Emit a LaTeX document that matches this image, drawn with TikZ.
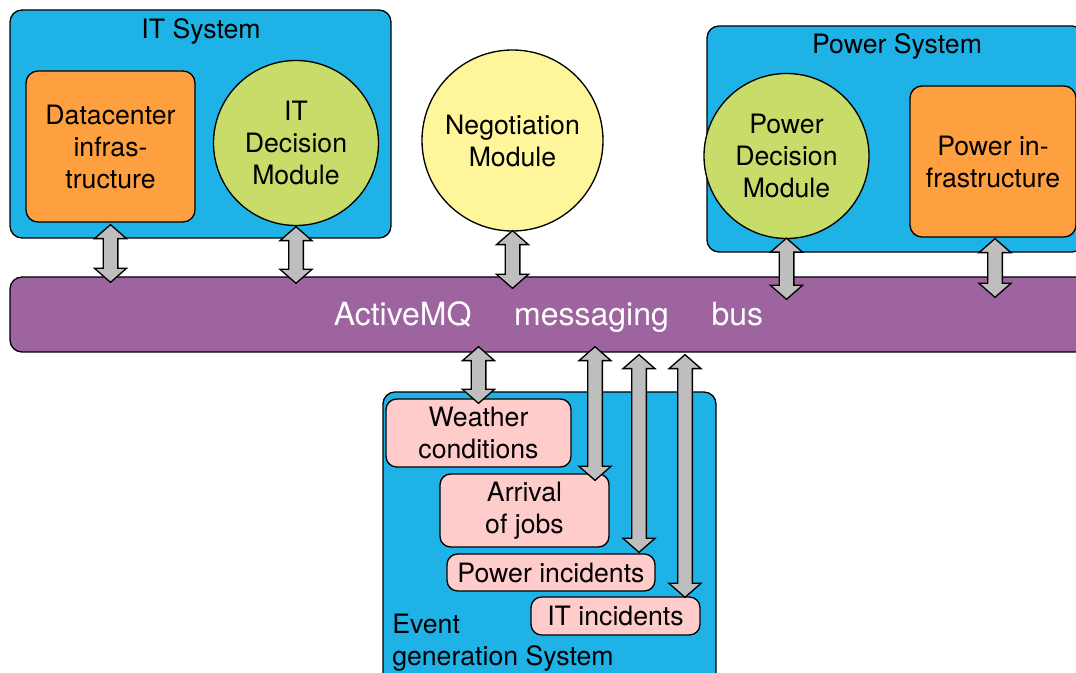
\documentclass[tikz,border=0pt]{standalone}
\usepackage{fontspec}
\setmainfont{TeX Gyre Heros}
\usetikzlibrary{calc}
\definecolor{sysblue}{RGB}{30,178,230}
\definecolor{infraorange}{RGB}{255,160,64}
\definecolor{decgreen}{RGB}{200,220,105}
\definecolor{negyellow}{RGB}{255,245,155}
\definecolor{buspurple}{RGB}{158,100,160}
\definecolor{evpink}{RGB}{255,204,204}
\definecolor{arrgray}{RGB}{190,190,190}
\tikzset{
  base/.style={draw=black, line width=1pt, font=\fontsize{20}{24}\selectfont, align=center, inner sep=0pt},
  sysbox/.style={base, fill=sysblue, rounded corners=9pt},
  infrabox/.style={base, fill=infraorange, rounded corners=9pt},
  decnode/.style={base, circle, fill=decgreen},
  negnode/.style={base, circle, fill=negyellow},
  busbox/.style={base, fill=buspurple, rounded corners=9pt},
  evbox/.style={base, fill=evpink, rounded corners=8pt},
  label/.style={font=\fontsize{20}{24}\selectfont, align=center, inner sep=0pt},
  fatarr/.style={draw=black, line width=1pt, fill=arrgray, line join=miter},
}
\newcommand{\fatarrow}[2]{%
  \draw[fatarr] let \p1=(#1), \p2=(#2) in
    (\x1,\y1) -- (\x1+12pt,\y1-10.5pt) -- (\x1+5.5pt,\y1-10.5pt) --
    (\x1+5.5pt,\y2+10.5pt) -- (\x1+12pt,\y2+10.5pt) -- (\x1,\y2) --
    (\x1-12pt,\y2+10.5pt) -- (\x1-5.5pt,\y2+10.5pt) --
    (\x1-5.5pt,\y1-10.5pt) -- (\x1-12pt,\y1-10.5pt) -- cycle;}
\begin{document}
\begin{tikzpicture}[x=0.75pt,y=-0.75pt]
\useasboundingbox (0,0) rectangle (1076,673);
\clip (0,0) rectangle (1076,673);
% IT system
\node[sysbox, minimum width=381*0.75pt, minimum height=228*0.75pt] (its) at (200.5,124) {};
\node[label] (itstitle) at (201,31) {IT System};
\node[infrabox, minimum width=169*0.75pt, minimum height=151*0.75pt] (dc) at (110.5,146.5) {Datacenter\\infras-\\tructure};
\node[decnode, minimum size=165*0.75pt] (itd) at (296,143) {IT\\Decision\\Module};
% Negotiation
\node[negnode, minimum size=181*0.75pt] (neg) at (512.5,140.5) {Negotiation\\Module};
% Power system
\node[sysbox, minimum width=377*0.75pt, minimum height=226*0.75pt] (pws) at (895.5,139) {};
\node[label] (pwstitle) at (897,46) {Power System};
\node[decnode, minimum size=165*0.75pt] (pd) at (786.5,156) {Power\\Decision\\Module};
\node[infrabox, minimum width=166*0.75pt, minimum height=151*0.75pt] (pi) at (993,161.5) {Power in-\\frastructure};
% Bus
\node[busbox, minimum width=1080*0.75pt, minimum height=75*0.75pt] (bus) at (550,314.5) {};
\node[label, text=white, font=\fontsize{24}{28}\selectfont] (bustext) at (548.5,317) {ActiveMQ\hspace{32pt}messaging\hspace{32pt}bus};
% Event generation system
\node[sysbox, minimum width=333*0.75pt, minimum height=300*0.75pt] (ev) at (549.5,542) {};
\node[label, anchor=west, align=left] (evtext) at (392,643) {Event\\generation System};
\node[evbox, minimum width=185*0.75pt, minimum height=68*0.75pt] (wc) at (478.5,433) {Weather\\conditions};
\node[evbox, minimum width=169*0.75pt, minimum height=73*0.75pt] (aj) at (524.5,510.5) {Arrival\\of jobs};
\node[evbox, minimum width=208*0.75pt, minimum height=37*0.75pt] (pinc) at (551,572.5) {Power incidents};
\node[evbox, minimum width=169*0.75pt, minimum height=38*0.75pt] (itinc) at (615.5,616) {IT incidents};
% arrow columns
\coordinate (c7) at (595,0);
\coordinate (c8) at (639,0);
\coordinate (c9) at (685,0);
% Arrows
\fatarrow{$(dc.south)+(0,2)$}{$(dc.south |- bus.north)+(0,6)$}
\fatarrow{$(itd.south)+(0,0.5)$}{$(itd.south |- bus.north)+(0,7)$}
\fatarrow{$(neg.south)+(0,-1)$}{$(neg.south |- bus.north)+(0,12)$}
\fatarrow{$(pd.south)+(0,-1)$}{$(pd.south |- bus.north)+(0,23)$}
\fatarrow{$(pi.south)+(2,1)$}{$(pi.south |- bus.north)+(2,21)$}
\fatarrow{$(wc.north |- bus.south)+(0,-6)$}{$(wc.north)+(0,5)$}
\fatarrow{$(c7 |- bus.south)+(0,-6)$}{$(c7 |- aj.north)+(0,7)$}
\fatarrow{$(c8 |- bus.south)+(0,2)$}{$(c8 |- pinc.north)+(0,-1)$}
\fatarrow{$(c9 |- bus.south)+(0,2)$}{$(c9 |- itinc.north)+(0,1)$}
\end{tikzpicture}
\end{document}
